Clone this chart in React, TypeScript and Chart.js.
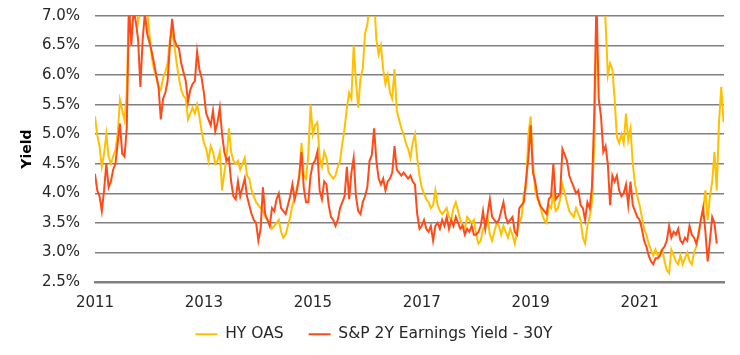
import React, { useEffect, useRef } from "react";
import { Chart, registerables } from "chart.js";

Chart.register(...registerables);

// Time axis: semi-monthly observations starting January 2011
const START_YEAR = 2011;
const STEPS_PER_YEAR = 24;
const X_MAX = 2022.55;
const TICK_YEARS = [2011, 2013, 2015, 2017, 2019, 2021];
const Y_MIN = 2.5;
const Y_MAX = 7.0;
const Y_STEP = 0.5;

const SERIES_NAMES = ["HY OAS", "S&P 2Y Earnings Yield - 30Y"];

// HY OAS (%), semi-monthly from Jan 2011
const HY_OAS = [
  // 2011
  5.3, 4.98, 4.8, 4.45, 4.67, 5.0, 4.62, 4.5, 4.62, 4.73, 5.0, 5.58, 5.4, 5.24, 5.7, 7.3, 7.5, 7.8, 7.6, 6.9, 7.1, 7.3, 7.4, 7.1,
  // 2012
  6.7, 6.3, 6.1, 5.95, 5.8, 5.75, 5.95, 6.05, 6.2, 6.6, 6.75, 6.5, 6.2, 5.95, 5.75, 5.65, 5.6, 5.25, 5.35, 5.45, 5.35, 5.5, 5.3, 5.05,
  // 2013
  4.85, 4.75, 4.55, 4.8, 4.7, 4.5, 4.55, 4.7, 4.05, 4.35, 4.6, 5.1, 4.7, 4.55, 4.5, 4.55, 4.4, 4.5, 4.6, 4.3, 4.25, 4.05, 3.95, 3.85,
  // 2014
  3.8, 3.75, 3.7, 3.6, 3.55, 3.5, 3.4, 3.45, 3.5, 3.55, 3.35, 3.25, 3.3, 3.45, 3.6, 3.8, 3.95, 4.1, 4.25, 4.85, 4.3, 4.25, 4.65, 5.5,
  // 2015
  5.0, 5.15, 5.2, 4.6, 4.45, 4.7, 4.6, 4.35, 4.3, 4.25, 4.3, 4.45, 4.55, 4.85, 5.1, 5.45, 5.7, 5.6, 6.5, 5.9, 5.45, 5.95, 6.1, 6.7,
  // 2016
  6.85, 7.2, 7.6, 7.3, 6.6, 6.35, 6.5, 6.1, 5.85, 6.0, 5.7, 5.6, 6.1, 5.4, 5.25, 5.1, 5.0, 4.85, 4.75, 4.6, 4.85, 5.0, 4.6, 4.3,
  // 2017
  4.1, 4.0, 3.9, 3.85, 3.75, 3.8, 4.05, 3.8, 3.7, 3.65, 3.7, 3.75, 3.6, 3.55, 3.75, 3.85, 3.7, 3.55, 3.45, 3.4, 3.6, 3.55, 3.5, 3.55,
  // 2018
  3.3, 3.15, 3.2, 3.4, 3.45, 3.6, 3.3, 3.2, 3.35, 3.5, 3.45, 3.3, 3.45, 3.35, 3.25, 3.4, 3.3, 3.15, 3.35, 3.5, 3.6, 4.0, 4.1, 5.0,
  // 2019
  5.3, 4.5, 4.05, 3.9, 3.85, 3.65, 3.55, 3.5, 3.8, 3.75, 4.0, 3.7, 3.75, 3.9, 4.15, 4.0, 3.85, 3.7, 3.65, 3.6, 3.75, 3.65, 3.55, 3.25,
  // 2020
  3.15, 3.45, 3.6, 3.85, 4.8, 6.8, 7.8, 8.8, 7.8, 6.9, 6.0, 6.2, 6.1, 5.6, 4.95, 4.85, 5.0, 4.85, 5.35, 4.9, 5.1, 4.5, 4.15, 3.95,
  // 2021
  3.8, 3.6, 3.4, 3.3, 3.15, 3.05, 2.95, 3.05, 2.95, 3.0, 3.05, 2.85, 2.7, 2.65, 3.05, 2.95, 2.85, 2.8, 2.95, 2.8, 2.9, 3.0, 2.85, 2.8,
  // 2022
  3.0, 3.1, 3.35, 3.55, 3.7, 4.05, 3.55, 3.95, 4.2, 4.7, 4.05, 5.2, 5.8, 5.2,
];

// S&P 500 2Y forward earnings yield minus 30Y Treasury yield (%), semi-monthly from Jan 2011
const EARNINGS_YIELD_GAP = [
  // 2011
  4.33, 4.05, 3.95, 3.7, 4.05, 4.5, 4.1, 4.2, 4.4, 4.5, 4.85, 5.18, 4.67, 4.62, 5.1, 7.2, 6.5, 7.1, 6.9, 6.6, 5.8, 6.6, 7.05, 6.7,
  // 2012
  6.55, 6.4, 6.2, 6.0, 5.8, 5.25, 5.6, 5.7, 5.9, 6.5, 6.95, 6.6, 6.5, 6.45, 6.2, 6.05, 5.9, 5.55, 5.75, 5.85, 5.9, 6.4, 6.1, 5.95,
  // 2013
  5.7, 5.35, 5.25, 5.15, 5.4, 5.05, 5.2, 5.45, 5.0, 4.7, 4.55, 4.6, 4.2, 3.95, 3.9, 4.2, 3.95, 4.1, 4.25, 3.95, 3.8, 3.65, 3.55, 3.5,
  // 2014
  3.2, 3.4, 4.1, 3.65, 3.55, 3.45, 3.75, 3.7, 3.9, 4.0, 3.75, 3.7, 3.65, 3.8, 3.95, 4.15, 3.9, 4.05, 4.3, 4.7, 4.1, 3.85, 3.85, 4.3,
  // 2015
  4.5, 4.55, 4.7, 4.05, 3.9, 4.2, 4.15, 3.8, 3.6, 3.55, 3.45, 3.55, 3.75, 3.85, 3.95, 4.45, 3.9, 4.35, 4.6, 3.95, 3.7, 3.65, 3.85, 3.95,
  // 2016
  4.1, 4.55, 4.65, 5.1, 4.55, 4.25, 4.15, 4.25, 4.05, 4.2, 4.25, 4.35, 4.8, 4.4, 4.35, 4.3, 4.35, 4.3, 4.25, 4.3, 4.2, 4.15, 3.65, 3.4,
  // 2017
  3.45, 3.55, 3.4, 3.35, 3.45, 3.2, 3.45, 3.5, 3.4, 3.55, 3.45, 3.6, 3.4, 3.55, 3.45, 3.6, 3.5, 3.4, 3.45, 3.3, 3.4, 3.35, 3.45, 3.3,
  // 2018
  3.3, 3.35, 3.45, 3.7, 3.4, 3.65, 3.9, 3.6, 3.55, 3.5, 3.55, 3.7, 3.85, 3.6, 3.5, 3.55, 3.6, 3.35, 3.3, 3.75, 3.8, 3.85, 4.25, 4.6,
  // 2019
  5.15, 4.35, 4.2, 3.95, 3.8, 3.75, 3.7, 3.65, 3.9, 3.95, 4.5, 3.9, 3.95, 4.0, 4.75, 4.65, 4.55, 4.3, 4.2, 4.1, 4.0, 4.05, 3.8, 3.75,
  // 2020
  3.55, 3.85, 3.75, 4.1, 5.3, 7.3, 5.6, 5.3, 4.7, 4.8, 4.5, 3.8, 4.3, 4.2, 4.3, 4.05, 3.95, 4.0, 4.15, 3.8, 4.2, 3.8, 3.7, 3.6,
  // 2021
  3.55, 3.4, 3.2, 3.1, 2.95, 2.85, 2.8, 2.9, 2.9, 2.95, 3.05, 3.1, 3.2, 3.45, 3.25, 3.35, 3.3, 3.4, 3.2, 3.15, 3.25, 3.2, 3.45, 3.3,
  // 2022
  3.25, 3.15, 3.3, 3.55, 3.75, 3.35, 2.85, 3.2, 3.6, 3.5, 3.15,
];

const COLORS = ["#FFC000", "#FF4B1A"];
const FONT_FAMILY = "'DejaVu Sans', sans-serif";
const TEXT_COLOR = "#262626";
const GRID_COLOR = "#808080";

function toPoints(values: number[]) {
  return values.map((v, i) => ({ x: START_YEAR + i / STEPS_PER_YEAR, y: v }));
}

export default function App() {
  const canvasRef = useRef<HTMLCanvasElement | null>(null);

  useEffect(() => {
    if (!canvasRef.current) return;
    const chart = new Chart(canvasRef.current, {
      type: "line",
      data: {
        datasets: [
          {
            label: SERIES_NAMES[0],
            data: toPoints(HY_OAS),
            borderColor: COLORS[0],
            backgroundColor: COLORS[0],
            borderWidth: 2,
            pointRadius: 0,
            pointHoverRadius: 0,
            tension: 0,
            order: 1,
          },
          {
            label: SERIES_NAMES[1],
            data: toPoints(EARNINGS_YIELD_GAP),
            borderColor: COLORS[1],
            backgroundColor: COLORS[1],
            borderWidth: 2,
            pointRadius: 0,
            pointHoverRadius: 0,
            tension: 0,
            order: 0,
          },
        ],
      },
      options: {
        animation: false,
        responsive: true,
        maintainAspectRatio: false,
        layout: { autoPadding: false, padding: { left: 24, right: 16, top: 16, bottom: 3 } },
        scales: {
          x: {
            type: "linear",
            min: START_YEAR,
            max: X_MAX,
            afterBuildTicks: (scale: any) => {
              scale.ticks = TICK_YEARS.map((v) => ({ value: v }));
            },
            afterFit: (scale: any) => {
              scale.height = 30;
            },
            ticks: {
              autoSkip: false,
              maxRotation: 0,
              padding: 12,
              color: TEXT_COLOR,
              font: { family: FONT_FAMILY, size: 15 },
              callback: (v: any) => String(v),
            },
            grid: { display: false, drawTicks: false },
            border: { display: true, color: GRID_COLOR, width: 2.5 },
          },
          y: {
            min: Y_MIN,
            max: Y_MAX,
            afterFit: (scale: any) => {
              scale.width = 71;
              scale.paddingTop = 0;
              scale.paddingBottom = 0;
            },
            ticks: {
              stepSize: Y_STEP,
              padding: 15,
              color: TEXT_COLOR,
              font: { family: FONT_FAMILY, size: 15 },
              callback: (v: any) => Number(v).toFixed(1) + "%",
            },
            grid: { color: GRID_COLOR, lineWidth: 1.5, drawTicks: false },
            border: { display: false },
            title: {
              display: true,
              text: "Yield",
              color: "#000",
              font: { family: FONT_FAMILY, size: 14, weight: "bold" },
              padding: { top: -4.9, bottom: 0 },
            },
          },
        },
        plugins: {
          legend: {
            position: "bottom",
            title: {
              display: true,
              text: "",
              font: { family: FONT_FAMILY, size: 10 },
              padding: { top: -22.5, bottom: 0 },
            },
            labels: {
              boxWidth: 22,
              boxHeight: 2,
              padding: 25,
              color: TEXT_COLOR,
              font: { family: FONT_FAMILY, size: 15.5 },
              generateLabels: (c: any) =>
                c.data.datasets.map((ds: any, i: number) => ({
                  text: ds.label,
                  fillStyle: ds.borderColor,
                  strokeStyle: ds.borderColor,
                  lineWidth: 0,
                  hidden: false,
                  datasetIndex: i,
                  fontColor: TEXT_COLOR,
                })),
            },
          },
          tooltip: { enabled: false },
        },
      } as any,
    });
    return () => chart.destroy();
  }, []);

  return (
    <div style={{ position: "absolute", left: 0, top: 0, width: 740, height: 355 }}>
      <canvas ref={canvasRef} />
    </div>
  );
}
